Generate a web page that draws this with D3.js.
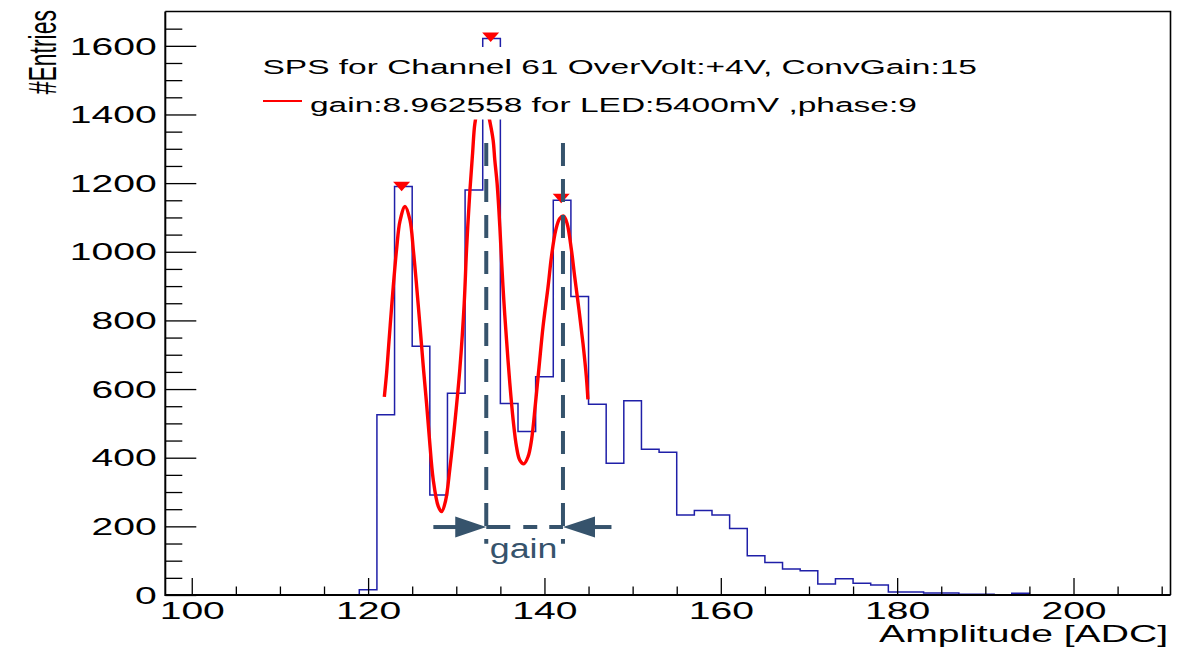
<!DOCTYPE html>
<html>
<head>
<meta charset="utf-8">
<script src="https://cdn.jsdelivr.net/npm/d3@7"></script>
<style>
  body { margin: 0; background: #fff; }
  svg { display: block; }
  text { font-family: "Liberation Sans", Arial, Helvetica, sans-serif; fill: #000; }
</style>
</head>
<body>
<svg id="chart" width="1192" height="648"></svg>
<script>
// ---- histogram: 2-ADC bins from 97 to 211 ----
const binLowEdge = 97;
const binWidth = 2;
const binCounts = [
  0, 0, 0, 0, 0, 0, 0, 0, 0, 0, 0,          // 97 .. 117
  15, 525, 1190, 725, 291, 588, 1180, 1621,  // 119 .. 133
  558, 476, 636, 1150, 870, 556, 384, 566,   // 135 .. 149
  425, 416, 233, 246, 233, 194, 114, 95,     // 151 .. 165
  76, 71, 32, 47, 34, 29, 9, 9,              // 167 .. 181
  6, 6, 2, 2, 0, 5,                          // 183 .. 193
  0, 0, 0, 0, 0, 0, 0, 0                     // 195 .. 209
];

// ---- multi-peak fit curve (sampled) ----
const fitX = [121.84, 122.11, 122.37, 122.67, 122.94, 123.24, 123.62, 124.19,
  124.75, 125.13, 125.51, 125.89, 126.26, 126.64, 126.94, 127.39, 127.96, 128.34,
  128.79, 129.28, 129.85, 130.41, 130.90, 131.17, 131.55, 131.85, 132.11, 132.50,
  133.00, 133.40, 133.81, 134.18, 134.37, 134.63, 134.94, 135.13, 135.39, 135.70,
  136.07, 136.45, 136.83, 137.20, 137.66, 138.14, 138.53, 138.98, 139.39, 139.84,
  140.41, 140.79, 141.28, 141.73, 142.18, 142.56, 143.06, 143.43, 143.92, 144.37,
  144.75, 144.93];
const fitY = [577, 650, 740, 840, 925, 1010, 1090, 1132,
  1092, 1005, 898, 782, 665, 555, 460, 335, 258, 243,
  275, 370, 505, 660, 850, 1010, 1180, 1287, 1374, 1420,
  1440, 1425, 1379, 1325, 1267, 1199, 1073, 976, 859, 743,
  617, 510, 432, 393, 382, 403, 451, 558, 665, 782,
  898, 985, 1063, 1097, 1104, 1083, 1005, 927, 830, 733,
  636, 570];

// ---- peaks found by the search ----
const peakX = [123.8, 133.9, 141.9];
const peakY = [1190, 1625, 1155];

// ---- axes ----
const xDomain = [97, 211];
const yDomain = [0, 1700];
const xMajorTicks = [100, 120, 140, 160, 180, 200];
const xMinorTicks = [105, 110, 115, 125, 130, 135, 145, 150, 155, 165, 170, 175,
  185, 190, 195, 205, 210];
const yMajorTicks = [0, 200, 400, 600, 800, 1000, 1200, 1400, 1600];
const yMinorTicks = [50, 100, 150, 250, 300, 350, 450, 500, 550, 650, 700, 750,
  850, 900, 950, 1050, 1100, 1150, 1250, 1300, 1350, 1450, 1500, 1550, 1650];
const xTitle = "Amplitude [ADC]";
const yTitle = "#Entries";

// ---- legend ----
const legendHeader = "SPS for Channel 61 OverVolt:+4V, ConvGain:15";
const legendEntry = "gain:8.962558 for LED:5400mV ,phase:9";

// ---- gain annotation (peak-to-peak distance) ----
const gainMarkX = [133.4, 142.1];
const gainLabel = "gain";

// ---------------------------------------------------------------
const W = 1192, H = 648;
const frame = { left: 165.3, right: 1170.5, top: 11.5, bottom: 595 };
const STRETCH = 1.7;           // horizontal stretch of the ROOT canvas text
const histColor = "#1f1fa8";
const annotColor = "#36536c";

const svg = d3.select("#chart");
svg.append("rect").attr("width", W).attr("height", H).attr("fill", "#fff");

const x = d3.scaleLinear().domain(xDomain).range([frame.left, frame.right]);
const y = d3.scaleLinear().domain(yDomain).range([frame.bottom, frame.top]);

// histogram outline
const histPts = binCounts.map((c, i) => [binLowEdge + i * binWidth, c]);
histPts.push([binLowEdge + binCounts.length * binWidth, binCounts[binCounts.length - 1]]);
svg.append("path")
  .attr("d", d3.line().x(d => x(d[0])).y(d => y(d[1])).curve(d3.curveStepAfter)(histPts))
  .attr("fill", "none")
  .attr("stroke", histColor)
  .attr("stroke-width", 1.5);

// fit curve
const fitPts = fitX.map((v, i) => [v, fitY[i]]);
svg.append("path")
  .attr("d", d3.line().x(d => x(d[0])).y(d => y(d[1])).curve(d3.curveCatmullRom.alpha(0.5))(fitPts))
  .attr("fill", "none")
  .attr("stroke", "#ff0000")
  .attr("stroke-width", 3.4)
  .attr("stroke-linejoin", "round");

// legend box (opaque, borderless)
const legend = svg.append("g");
legend.append("rect")
  .attr("x", 250).attr("y", 47).attr("width", 750).attr("height", 72.5)
  .attr("fill", "#fff");
legend.append("text")
  .attr("transform", `translate(262.5,73.6) scale(${STRETCH},1)`)
  .attr("font-size", 19.7)
  .text(legendHeader);
legend.append("line")
  .attr("x1", 263).attr("x2", 302).attr("y1", 101).attr("y2", 101)
  .attr("stroke", "#ff0000").attr("stroke-width", 2);
legend.append("text")
  .attr("transform", `translate(310,111.7) scale(${STRETCH},1)`)
  .attr("font-size", 19.7)
  .text(legendEntry);

// peak markers (downward triangles)
svg.append("g").selectAll("path")
  .data(peakX.map((v, i) => [v, peakY[i]]))
  .join("path")
  .attr("transform", d => `translate(${x(d[0])},${y(d[1])})`)
  .attr("d", "M-8.5,-4.8 L8.5,-4.8 L0,4.8 Z")
  .attr("fill", "#ff0000");

// gain annotation: dashed markers, arrows and label
const ann = svg.append("g").attr("stroke", annotColor).attr("fill", annotColor);
gainMarkX.forEach(v => {
  ann.append("line")
    .attr("x1", x(v)).attr("x2", x(v))
    .attr("y1", y(1317)).attr("y2", y(149))
    .attr("stroke-width", 4)
    .attr("stroke-dasharray", "23,13");
});
const arrowY = y(198);
ann.append("line")
  .attr("x1", x(127.4)).attr("x2", x(gainMarkX[0]) - 28)
  .attr("y1", arrowY).attr("y2", arrowY).attr("stroke-width", 4);
ann.append("path")
  .attr("d", `M${x(gainMarkX[0])},${arrowY} l-31,-10.5 l0,21 Z`)
  .attr("stroke", "none");
ann.append("line")
  .attr("x1", x(gainMarkX[0])).attr("x2", x(gainMarkX[1]))
  .attr("y1", arrowY).attr("y2", arrowY).attr("stroke-width", 4)
  .attr("stroke-dasharray", "24,13,14,12,14,100");
ann.append("line")
  .attr("x1", x(gainMarkX[1]) + 28).attr("x2", x(147.6))
  .attr("y1", arrowY).attr("y2", arrowY).attr("stroke-width", 4);
ann.append("path")
  .attr("d", `M${x(gainMarkX[1])},${arrowY} l32,-10.5 l0,21 Z`)
  .attr("stroke", "none");
svg.append("text")
  .attr("transform", `translate(${(x(gainMarkX[0]) + x(gainMarkX[1])) / 2 - 1},558) scale(1.3,1)`)
  .attr("text-anchor", "middle")
  .attr("font-family", "'Open Sans', sans-serif")
  .attr("font-size", 27.5)
  .style("fill", annotColor)
  .text(gainLabel);

// frame top / right
svg.append("path")
  .attr("d", `M${frame.left},${frame.top} H${frame.right} V${frame.bottom}`)
  .attr("fill", "none").attr("stroke", "#000").attr("stroke-width", 1.6);

// y axis
const yAxisG = svg.append("g").attr("transform", `translate(${frame.left},0)`);
yAxisG.call(d3.axisLeft(y).tickValues(yMinorTicks).tickSizeInner(-17).tickSizeOuter(0).tickFormat(""));
yAxisG.call(g => g.select(".domain").remove());
const yMajor = svg.append("g").attr("transform", `translate(${frame.left},0)`)
  .call(d3.axisLeft(y).tickValues(yMajorTicks).tickSizeInner(-31).tickSizeOuter(0).tickFormat(d3.format("d")));
yMajor.select(".domain").remove();
yMajor.selectAll("text")
  .attr("x", null).attr("dy", null)
  .attr("transform", `translate(-8.6,8.2) scale(${STRETCH},1)`)
  .attr("text-anchor", "end")
  .attr("font-size", 23)
  .attr("font-family", "'Liberation Sans', Arial, sans-serif")
  .attr("fill", "#000");
svg.selectAll(".tick line").attr("stroke", "#000").attr("stroke-width", 1.3);

// x axis
const xMinorG = svg.append("g").attr("transform", `translate(0,${frame.bottom})`)
  .call(d3.axisBottom(x).tickValues(xMinorTicks).tickSizeInner(-8.5).tickSizeOuter(0).tickFormat(""));
xMinorG.select(".domain").remove();
const xMajor = svg.append("g").attr("transform", `translate(0,${frame.bottom})`)
  .call(d3.axisBottom(x).tickValues(xMajorTicks).tickSizeInner(-17).tickSizeOuter(0).tickFormat(d3.format("d")));
xMajor.select(".domain").remove();
xMajor.selectAll("text")
  .attr("y", null).attr("dy", null)
  .attr("transform", `translate(0,24) scale(${STRETCH},1)`)
  .attr("text-anchor", "middle")
  .attr("font-size", 23)
  .attr("font-family", "'Liberation Sans', Arial, sans-serif")
  .attr("fill", "#000");
svg.selectAll(".tick line").attr("stroke", "#000").attr("stroke-width", 1.3);

// axis lines
svg.append("path")
  .attr("d", `M${frame.left},${frame.top} V${frame.bottom} H${frame.right}`)
  .attr("fill", "none").attr("stroke", "#000").attr("stroke-width", 2);

// axis titles
svg.append("text")
  .attr("transform", `translate(1168,641.5) scale(${STRETCH},1)`)
  .attr("text-anchor", "end")
  .attr("font-size", 23)
  .text(xTitle);
svg.append("text")
  .attr("transform", `translate(55.5,10) scale(${STRETCH},1) rotate(-90)`)
  .attr("text-anchor", "end")
  .attr("font-size", 23)
  .text(yTitle);
</script>
</body>
</html>
